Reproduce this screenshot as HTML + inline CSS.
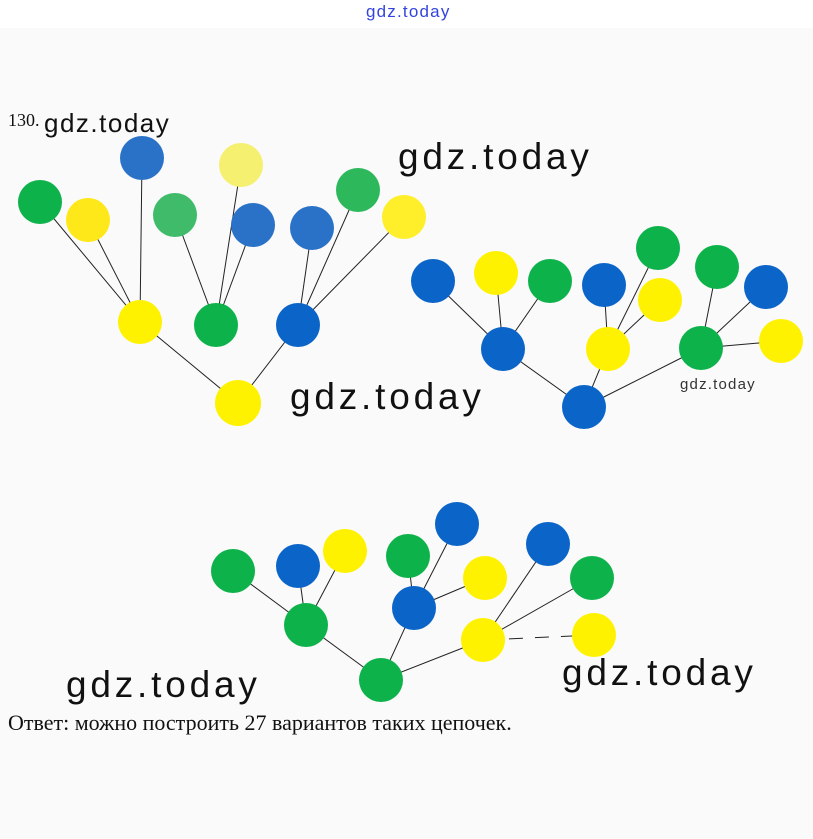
<!DOCTYPE html>
<html><head><meta charset="utf-8"><style>
body{margin:0;background:#fff;width:813px;height:839px;overflow:hidden;position:relative;font-family:"Liberation Sans",sans-serif}
.t{position:absolute;white-space:nowrap;color:#111}
.w{font-size:37px;letter-spacing:3.8px}
</style></head><body>
<div style="position:absolute;left:0;top:28px;width:813px;height:811px;background:#fafafa"></div>
<svg width="813" height="839" style="position:absolute;left:0;top:0">
<g stroke="#222" stroke-width="1">
<line x1="140" y1="322" x2="40" y2="202"/><line x1="140" y1="322" x2="88" y2="220"/><line x1="140" y1="322" x2="142" y2="158"/>
<line x1="216" y1="325" x2="175" y2="215"/><line x1="216" y1="325" x2="241" y2="165"/><line x1="216" y1="325" x2="253" y2="225"/>
<line x1="298" y1="325" x2="312" y2="228"/><line x1="298" y1="325" x2="358" y2="190"/><line x1="298" y1="325" x2="404" y2="217"/>
<line x1="238" y1="403" x2="140" y2="322"/><line x1="238" y1="403" x2="298" y2="325"/>
<line x1="503" y1="349" x2="433" y2="281"/><line x1="503" y1="349" x2="496" y2="273"/><line x1="503" y1="349" x2="550" y2="281"/>
<line x1="608" y1="349" x2="604" y2="285"/><line x1="608" y1="349" x2="658" y2="248"/><line x1="608" y1="349" x2="660" y2="300"/>
<line x1="701" y1="348" x2="717" y2="267"/><line x1="701" y1="348" x2="766" y2="287"/><line x1="701" y1="348" x2="781" y2="341"/>
<line x1="584" y1="407" x2="503" y2="349"/><line x1="584" y1="407" x2="608" y2="349"/><line x1="584" y1="407" x2="701" y2="348"/>
<line x1="306" y1="625" x2="233" y2="571"/><line x1="306" y1="625" x2="298" y2="566"/><line x1="306" y1="625" x2="345" y2="551"/>
<line x1="414" y1="608" x2="408" y2="556"/><line x1="414" y1="608" x2="457" y2="524"/><line x1="414" y1="608" x2="485" y2="578"/>
<line x1="483" y1="640" x2="548" y2="544"/><line x1="483" y1="640" x2="592" y2="578"/><line x1="483" y1="640" x2="594" y2="635" stroke-dasharray="14,12"/>
<line x1="381" y1="680" x2="306" y2="625"/><line x1="381" y1="680" x2="414" y2="608"/><line x1="381" y1="680" x2="483" y2="640"/>
</g>
<g>
<circle cx="40" cy="202" r="22" fill="#0db24a"/><circle cx="88" cy="220" r="22" fill="#ffe81a"/><circle cx="142" cy="158" r="22" fill="#2a72c8"/>
<circle cx="175" cy="215" r="22" fill="#3fbb6a"/><circle cx="241" cy="165" r="22" fill="#f5f070"/><circle cx="253" cy="225" r="22" fill="#2a72c8"/>
<circle cx="312" cy="228" r="22" fill="#2a72c8"/><circle cx="358" cy="190" r="22" fill="#2eb85c"/><circle cx="404" cy="217" r="22" fill="#ffee2a"/>
<circle cx="140" cy="322" r="22" fill="#fff200"/><circle cx="216" cy="325" r="22" fill="#0db24a"/><circle cx="298" cy="325" r="22" fill="#0b64c8"/>
<circle cx="238" cy="403" r="23" fill="#fff200"/>
<circle cx="433" cy="281" r="22" fill="#0b64c8"/><circle cx="496" cy="273" r="22" fill="#fff200"/><circle cx="550" cy="281" r="22" fill="#0db24a"/>
<circle cx="604" cy="285" r="22" fill="#0b64c8"/><circle cx="658" cy="248" r="22" fill="#0db24a"/><circle cx="660" cy="300" r="22" fill="#fff200"/>
<circle cx="717" cy="267" r="22" fill="#0db24a"/><circle cx="766" cy="287" r="22" fill="#0b64c8"/><circle cx="781" cy="341" r="22" fill="#fff200"/>
<circle cx="503" cy="349" r="22" fill="#0b64c8"/><circle cx="608" cy="349" r="22" fill="#fff200"/><circle cx="701" cy="348" r="22" fill="#0db24a"/>
<circle cx="584" cy="407" r="22" fill="#0b64c8"/>
<circle cx="233" cy="571" r="22" fill="#0db24a"/><circle cx="298" cy="566" r="22" fill="#0b64c8"/><circle cx="345" cy="551" r="22" fill="#fff200"/>
<circle cx="408" cy="556" r="22" fill="#0db24a"/><circle cx="457" cy="524" r="22" fill="#0b64c8"/><circle cx="485" cy="578" r="22" fill="#fff200"/>
<circle cx="548" cy="544" r="22" fill="#0b64c8"/><circle cx="592" cy="578" r="22" fill="#0db24a"/><circle cx="594" cy="635" r="22" fill="#fff200"/>
<circle cx="306" cy="625" r="22" fill="#0db24a"/><circle cx="414" cy="608" r="22" fill="#0b64c8"/><circle cx="483" cy="640" r="22" fill="#fff200"/>
<circle cx="381" cy="680" r="22" fill="#0db24a"/>
</g>
</svg>
<div class="t" style="left:366px;top:2px;font-size:17px;letter-spacing:1.2px;color:#3344dd">gdz.today</div>
<div class="t" style="left:8px;top:110px;font-size:18px;font-family:'Liberation Serif',serif">130.</div>
<div class="t" style="left:44px;top:108px;font-size:26px;letter-spacing:1.5px">gdz.today</div>
<div class="t w" style="left:398px;top:136px">gdz.today</div>
<div class="t w" style="left:290px;top:376px">gdz.today</div>
<div class="t" style="left:680px;top:376px;font-size:15px;letter-spacing:1.2px;color:#333">gdz.today</div>
<div class="t w" style="left:66px;top:664px">gdz.today</div>
<div class="t w" style="left:562px;top:652px">gdz.today</div>
<div class="t" style="left:8px;top:710px;font-size:22px;font-family:'Liberation Serif',serif">Ответ: можно построить 27 вариантов таких цепочек.</div>
</body></html>
